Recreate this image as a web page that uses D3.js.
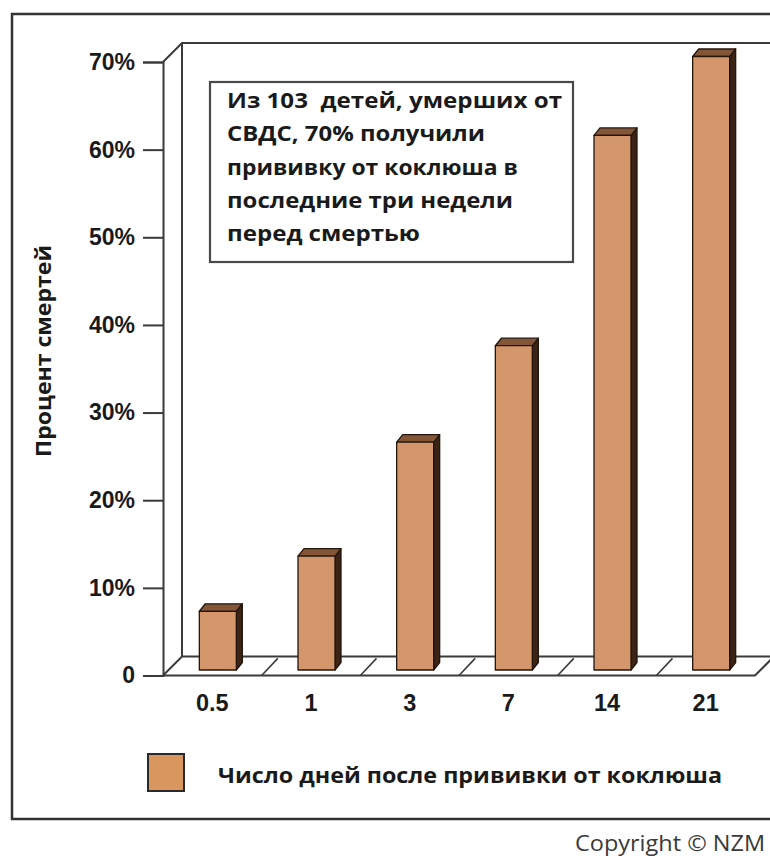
<!DOCTYPE html>
<html>
<head>
<meta charset="utf-8">
<script src="https://cdn.jsdelivr.net/npm/d3@7/dist/d3.min.js"></script>
<style>
  html, body { margin: 0; padding: 0; background: #fff; }
  svg { display: block; }
</style>
</head>
<body>
<svg id="chart" width="770" height="856"></svg>
<script>
// Days since pertussis vaccination and cumulative share of SIDS deaths
const categories = ["0.5", "1", "3", "7", "14", "21"];
const deathShare = [6.7, 13, 26, 37, 61, 70];
const yTicks = [0, 10, 20, 30, 40, 50, 60, 70];
const yTickLabels = ["0", "10%", "20%", "30%", "40%", "50%", "60%", "70%"];
const yAxisTitle = "Процент смертей";
const noteLines = [
  "Из 103  детей, умерших от",
  "СВДС, 70% получили",
  "прививку от коклюша в",
  "последние три недели",
  "перед смертью"
];
const noteWidths = [335, 258, 291, 286, 193];
const legendLabel = "Число дней после прививки от коклюша";
const copyrightText = "Copyright © NZM";

const svg = d3.select("#chart");
const ink = "#3a3a3a";
const calibriLike = "'Open Sans', 'Noto Sans', sans-serif";
const arialLike = "'Liberation Sans', Arial, sans-serif";

// plot geometry (front plane of the 3-D box)
const x0 = 163, x1 = 755;
const y = d3.scaleLinear().domain([0, 70]).range([675.5, 62]);
const x = d3.scaleBand().domain(categories).range([x0, x1]).padding(0);
const depth = 19;          // wall / floor depth offset
const barShift = 5.5;      // bar front face sits this far behind the floor edge
const barDepth = { dx: 6, dy: 7.5 };
const barWidth = x.bandwidth() * 0.375;

// outer frame
svg.append("path")
  .attr("d", `M770,14 H12 V819 H770`)
  .attr("fill", "none").attr("stroke", "#333").attr("stroke-width", 2.5);

// back wall and floor outline
const yBottom = y(0), yTop = y(70);
const frame = svg.append("g").attr("fill", "none").attr("stroke", ink).attr("stroke-width", 2);
frame.append("path").attr("d",
  `M${x0},${yTop} L${x0 + depth},${yTop - depth} H${x1 + depth + 10}` +
  `M${x0 + depth},${yTop - depth} V${yBottom - depth}` +
  `M${x0},${yBottom} L${x0 + depth},${yBottom - depth} H${x1 + depth}` +
  `M${x0},${yBottom} H${x1} L${x1 + depth},${yBottom - depth}`);

// floor gridlines between categories
categories.slice(1).forEach(c => {
  const xb = x(c);
  frame.append("line")
    .attr("x1", xb).attr("y1", yBottom)
    .attr("x2", xb + depth * 0.85).attr("y2", yBottom - depth * 0.9)
    .attr("stroke-width", 1.6);
});

// value axis
const yAxis = svg.append("g")
  .attr("transform", `translate(${x0},0)`)
  .call(d3.axisLeft(y).tickValues(yTicks)
    .tickFormat((d, i) => yTickLabels[i])
    .tickSize(20).tickPadding(8));
yAxis.select(".domain").attr("stroke", ink).attr("stroke-width", 2);
yAxis.selectAll(".tick line").attr("stroke", ink).attr("stroke-width", 2);
yAxis.selectAll(".tick text")
  .attr("font-family", arialLike).attr("font-weight", "bold")
  .attr("font-size", 23).attr("fill", "#1a1a1a");

// category axis (labels only)
const xAxis = svg.append("g")
  .attr("transform", `translate(0,${yBottom})`)
  .call(d3.axisBottom(x).tickSize(0).tickPadding(19));
xAxis.select(".domain").remove();
xAxis.selectAll(".tick text")
  .attr("font-family", arialLike).attr("font-weight", "bold")
  .attr("font-size", 23.5).attr("fill", "#1a1a1a");

// 3-D bars
const bars = svg.append("g").attr("stroke", "#24160d").attr("stroke-width", 1.3)
  .attr("stroke-linejoin", "round");
categories.forEach((c, i) => {
  const cx = x(c) + x.bandwidth() / 2 + barShift;
  const xl = cx - barWidth / 2, xr = cx + barWidth / 2;
  const base = yBottom - barShift;
  const top = y(deathShare[i]) - barShift;
  const { dx, dy } = barDepth;
  bars.append("polygon")
    .attr("points", [[xr, top], [xr + dx, top - dy], [xr + dx, base - dy], [xr, base]].join(" "))
    .attr("fill", "#3b2416");
  bars.append("polygon")
    .attr("points", [[xl, top], [xl + dx, top - dy], [xr + dx, top - dy], [xr, top]].join(" "))
    .attr("fill", "#835638");
  bars.append("rect")
    .attr("x", xl).attr("y", top).attr("width", barWidth).attr("height", base - top)
    .attr("fill", "#d4976b");
});

// axis title
svg.append("text")
  .attr("transform", "translate(51,351) rotate(-90)")
  .attr("text-anchor", "middle")
  .attr("font-family", calibriLike).attr("font-weight", "bold")
  .attr("font-size", 20.5).attr("fill", "#1a1a1a")
  .attr("textLength", 212).attr("lengthAdjust", "spacingAndGlyphs")
  .text(yAxisTitle);

// annotation box
svg.append("rect")
  .attr("x", 210).attr("y", 82).attr("width", 363).attr("height", 180)
  .attr("fill", "#fff").attr("stroke", "#4a4a4a").attr("stroke-width", 2.2);
svg.append("g").selectAll("text").data(noteLines).join("text")
  .attr("x", 227).attr("y", (d, i) => 108 + i * 33.3)
  .attr("font-family", calibriLike).attr("font-weight", "bold")
  .attr("font-size", 20.5).attr("fill", "#1a1a1a")
  .attr("textLength", (d, i) => noteWidths[i]).attr("lengthAdjust", "spacingAndGlyphs")
  .attr("xml:space", "preserve")
  .text(d => d);

// legend
svg.append("rect")
  .attr("x", 148).attr("y", 754).attr("width", 36).attr("height", 37)
  .attr("fill", "#d9975f").attr("stroke", "#2a2a2a").attr("stroke-width", 2);
svg.append("text")
  .attr("x", 218).attr("y", 783)
  .attr("font-family", calibriLike).attr("font-weight", "bold")
  .attr("font-size", 21.5).attr("fill", "#1a1a1a")
  .attr("textLength", 504).attr("lengthAdjust", "spacingAndGlyphs")
  .text(legendLabel);

// copyright line
svg.append("text")
  .attr("x", 575).attr("y", 851)
  .attr("font-family", calibriLike)
  .attr("font-size", 21).attr("fill", "#3a3a3a")
  .attr("textLength", 190).attr("lengthAdjust", "spacingAndGlyphs")
  .text(copyrightText);
</script>
</body>
</html>
